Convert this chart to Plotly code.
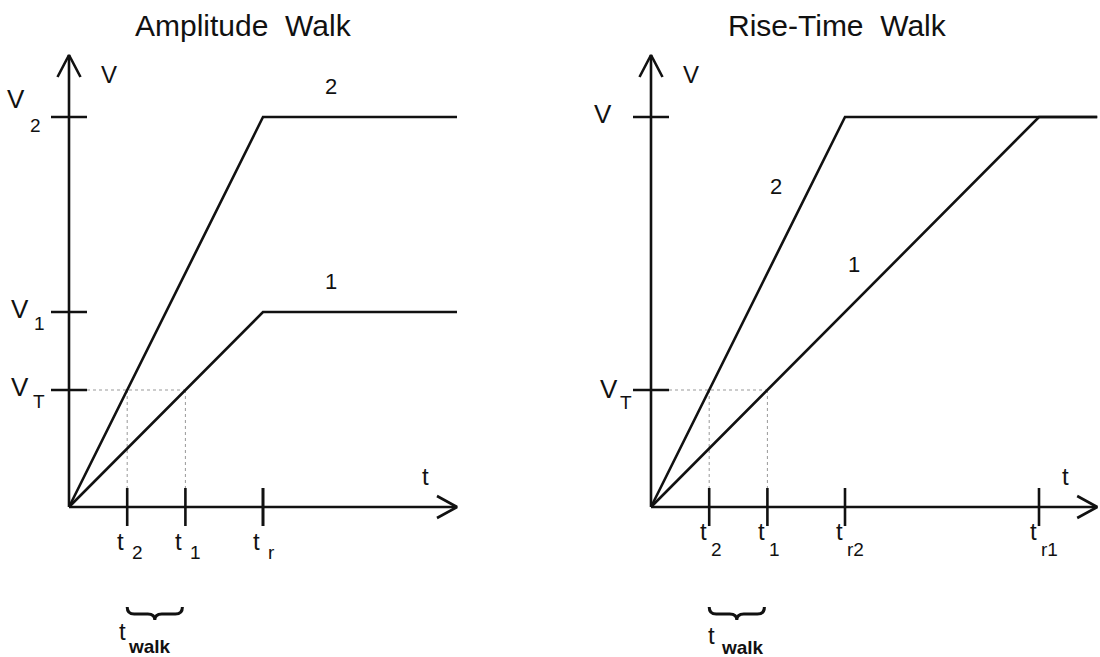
import plotly.graph_objects as go

# ---------------------------------------------------------------------------
# Pulse model: linear rise from 0 to the peak over the rise time, then flat.
# Units: t in units of the short rise time, V in units of full amplitude.
# ---------------------------------------------------------------------------
panel_titles = ["Amplitude\u00a0 Walk", "Rise-Time\u00a0 Walk"]
series_names = ["1", "2"]

amp_peaks = [0.5, 1.0]     # V1, V2
amp_rises = [1.0, 1.0]     # common t_r
rt_peaks = [1.0, 1.0]      # common V
rt_rises = [2.0, 1.0]      # t_r1, t_r2
v_threshold = 0.3          # V_T
t_axis_end = [2.0, 2.3]

# subscripts of the labels on the V axis (peak levels, then threshold)
amp_v_subs = ["1", "2", "T"]
rt_v_subs = ["", "T"]
# subscripts of the labels on the t axis (crossings, then rise times)
amp_t_subs = ["1", "2", "r"]
rt_t_subs = ["1", "2", "r1", "r2"]

# ---------------------------------------------------------------------------
# Geometry (pixels)
# ---------------------------------------------------------------------------
W, H = 1100, 657
PX_T, PX_V = 194.0, 390.0          # pixels per unit of t and of V
ORIGIN_X = [69.0, 651.0]
ORIGIN_Y = 507.0
SPLIT = 0.5

FONT = "Liberation Sans, Arial, Helvetica, sans-serif"
INK = "#111111"
GUIDE = "#999999"
LW = 2.6


def dx(px):
    return px / PX_T


def dy(px):
    return px / PX_V


fig = go.Figure()


def refs(k):
    return ("x", "y") if k == 0 else ("x2", "y2")


def lines(k, xs, ys, color=INK, width=LW, dash="solid"):
    xa, ya = refs(k)
    fig.add_trace(go.Scatter(
        x=xs, y=ys, mode="lines", xaxis=xa, yaxis=ya,
        line=dict(color=color, width=width, dash=dash),
        hoverinfo="skip", showlegend=False,
    ))


def label(k, x, y, s, size, xs=0, ys=0, anchor="center", bold=False):
    xa, ya = refs(k)
    fig.add_annotation(
        x=x, y=y, xref=xa, yref=ya, showarrow=False,
        text=f"<b>{s}</b>" if bold else s,
        xshift=xs, yshift=ys, xanchor=anchor, yanchor="middle",
        font=dict(family=FONT, size=size, color=INK),
    )


V_ARROW = dy(ORIGIN_Y - 55)        # top of the V axis

panels = [
    dict(peaks=amp_peaks, rises=amp_rises, v_subs=amp_v_subs, t_subs=amp_t_subs,
         v_vals=amp_peaks + [v_threshold],
         v_off=[(-49, 3, -30, -11), (-53, 18, -34, -8), (-49, 3, -30, -11)],
         t_off=(-6.5, -34, 3, -45), walk_off=(-5, -124, 22, -139)),
    dict(peaks=rt_peaks, rises=rt_rises, v_subs=rt_v_subs, t_subs=rt_t_subs,
         v_vals=[rt_peaks[0], v_threshold],
         v_off=[(-48.5, 3, 0, 0), (-42, 1, -25.5, -12)],
         t_off=(-5.5, -24.5, 0, -42), walk_off=(2.5, -128, 33, -140)),
]

for k, p in enumerate(panels):
    peaks, rises = p["peaks"], p["rises"]
    t_end = t_axis_end[k]
    cross = [v_threshold * r / v for v, r in zip(peaks, rises)]

    # threshold guides
    gx, gy = [0, max(cross)], [v_threshold, v_threshold]
    for c in cross:
        gx += [None, c, c]
        gy += [None, v_threshold, 0]
    lines(k, gx, gy, color=GUIDE, width=1, dash="dot")

    # axes with open arrowheads
    lines(k, [0, t_end], [0, 0])
    lines(k, [0, 0], [0, V_ARROW])
    lines(k, [-dx(11.5), 0, dx(11.5)], [V_ARROW - dy(22), V_ARROW, V_ARROW - dy(22)])
    lines(k, [t_end - dx(20), t_end, t_end - dx(20)], [dy(11), 0, -dy(11)])

    # V-axis ticks and labels
    tx, ty = [], []
    for v in p["v_vals"]:
        tx += [-dx(18), dx(18), None]
        ty += [v, v, None]
    lines(k, tx, ty)
    for v, sub, (vx, vy, sx, sy) in zip(p["v_vals"], p["v_subs"], p["v_off"]):
        label(k, 0, v, "V", 26, vx, vy)
        if sub:
            label(k, 0, v, sub, 19, sx, sy)

    # t-axis ticks and labels
    t_vals = cross + list(rises)
    tx, ty = [], []
    for t in t_vals:
        tx += [t, t, None]
        ty += [-dy(19), dy(19), None]
    lines(k, tx, ty)
    ox, oy, sx, sy = p["t_off"]
    for t, sub in zip(t_vals, p["t_subs"]):
        label(k, t, 0, "t", 24, ox, oy)
        label(k, t, 0, sub, 19, sx, sy, anchor="left")

    # axis names
    label(k, 0, V_ARROW, "V", 24, 40, -19)
    label(k, t_end, 0, "t", 24, -32, 31)

    # pulses
    for name, v, r in zip(series_names, peaks, rises):
        lines(k, [0, r, t_end], [0, v, v])

    # series numbers
    if k == 0:
        for name, v, r in zip(series_names, peaks, rises):
            label(k, r, v, name, 22, 68, 31)
    else:
        for name, v, r, h in zip(series_names, peaks, rises, [0.6, 0.8]):
            label(k, r * h / v, h, name, 22, -30, 9)

    # brace under the walk interval
    t_a, t_b = min(cross), max(cross) - dx(3)
    t_m = 0.5 * (t_a + t_b)
    y_top, y_mid, y_bot = -dy(100), -dy(107), -dy(113)
    r = dx(7)
    brace = (f"M {t_a},{y_top} Q {t_a},{y_mid} {t_a + r},{y_mid} "
             f"L {t_m - r},{y_mid} Q {t_m},{y_mid} {t_m},{y_bot} "
             f"Q {t_m},{y_mid} {t_m + r},{y_mid} "
             f"L {t_b - r},{y_mid} Q {t_b},{y_mid} {t_b},{y_top}")
    xa, ya = refs(k)
    fig.add_shape(type="path", path=brace, xref=xa, yref=ya,
                  line=dict(color=INK, width=3))
    wx, wy, kx, ky = p["walk_off"]
    label(k, min(cross), 0, "t", 24, wx, wy)
    label(k, min(cross), 0, "walk", 19, kx, ky, bold=True)

# panel titles
for k, title in enumerate(panel_titles):
    fig.add_annotation(
        x=[243, 837][k] / W, y=1 - 25 / H, xref="paper", yref="paper",
        text=title, showarrow=False, xanchor="center", yanchor="middle",
        font=dict(family=FONT, size=30, color=INK),
    )

# axis ranges keep the same pixel scale in both panels
left_w = SPLIT * W
x_ranges = [
    [-ORIGIN_X[0] / PX_T, (left_w - ORIGIN_X[0]) / PX_T],
    [-(ORIGIN_X[1] - left_w) / PX_T, (W - ORIGIN_X[1]) / PX_T],
]
y_range = [-(H - ORIGIN_Y) / PX_V, ORIGIN_Y / PX_V]

hidden = dict(visible=False, showgrid=False, zeroline=False, fixedrange=True)
fig.update_layout(
    width=W, height=H,
    margin=dict(l=0, r=0, t=0, b=0),
    paper_bgcolor="white", plot_bgcolor="white",
    showlegend=False,
    xaxis=dict(domain=[0, SPLIT], range=x_ranges[0], **hidden),
    xaxis2=dict(domain=[SPLIT, 1], range=x_ranges[1], **hidden),
    yaxis=dict(domain=[0, 1], range=y_range, **hidden),
    yaxis2=dict(domain=[0, 1], range=y_range, anchor="x2", **hidden),
)

fig.write_html("out.html")
